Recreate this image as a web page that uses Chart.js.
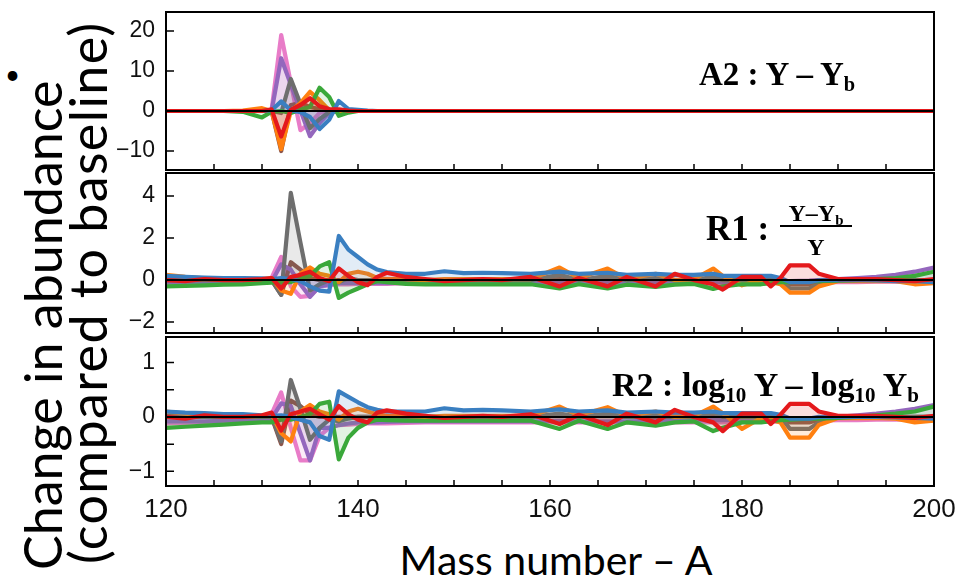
<!DOCTYPE html>
<html>
<head>
<meta charset="utf-8">
<script src="https://cdn.jsdelivr.net/npm/chart.js@4.4.1/dist/chart.umd.min.js"></script>
<style>
    body { margin: 0; background: #fff; width: 965px; height: 581px; overflow: hidden; position: relative; }
    canvas { position: absolute; left: 0; }
    .note { position: absolute; font-family: 'Liberation Serif', 'Times New Roman', serif; font-weight: bold; color: #000; white-space: nowrap; }
    .note sub { font-size: 0.62em; vertical-align: -0.3em; line-height: 0; }
    .title { position: absolute; font-family: Lato, 'Open Sans', sans-serif; color: #000; white-space: nowrap; }
</style>
</head>
<body>
<div class="title" style="left:5px;top:58px;font-size:26px;">•</div>

<canvas id="panelA2" width="965" height="162" style="top:10px"></canvas>
<canvas id="panelR1" width="965" height="164" style="top:171px"></canvas>
<canvas id="panelR2" width="965" height="191" style="top:335px"></canvas>

<div class="title" style="left:-210px;top:250px;width:550px;height:90px;font-size:52px;line-height:45px;transform:rotate(-90deg);">Change in abundance<br><span style="display:inline-block;padding-left:6px;letter-spacing:1.4px;">(compared to baseline)</span></div>
<div class="title" style="left:256px;top:539px;width:600px;text-align:center;font-size:41px;line-height:41px;">Mass number – A</div>

<div class="note" style="left:699px;top:56px;font-size:33px;">A2 : Y – Y<sub>b</sub></div>
<div class="note" style="left:706px;top:209px;font-size:35px;">R1 :</div>
<div class="note" style="left:780px;top:203px;width:72px;font-size:24px;text-align:center;line-height:21px;">
    <div style="border-bottom:2px solid #000;padding-bottom:1px;">Y–Y<sub>b</sub></div>
    <div style="padding-top:10px;">Y</div>
</div>
<div class="note" style="left:612px;top:366px;font-size:34px;">R2 : log<sub>10</sub> Y – log<sub>10</sub> Y<sub>b</sub></div>

<script>
// Mass numbers where the curves were read
const X = [120, 122, 124, 126, 128, 130, 131, 132, 133, 134, 135, 136, 137, 138, 139, 140, 141, 142, 143, 145,
    147, 149, 151, 153, 155, 158, 161, 163, 166, 168, 171, 173, 175, 177, 178, 180, 182, 183, 184, 185,
    187, 188, 190, 192, 194, 196, 198, 200];

const X_TICKS = [120, 140, 160, 180, 200];
const X_MINOR = [120, 125, 130, 135, 140, 145, 150, 155, 160, 165, 170, 175, 180, 185, 190, 195, 200];

const A2_TICKS = [-10, 0, 10, 20];
const R1_TICKS = [-2, 0, 2, 4];
const R2_TICKS = [-1, 0, 1];
const R2_MARKS = [-1, -0.5, 0, 0.5, 1];

// A2 : Y - Yb
const A2_BLUE = [0, 0, 0, 0, 0, 0, 0.2, 2.4, 0.2, -0.3, -1.5, -4.5, -2.2, 2.5, 0.5, 0.3, 0.1, 0, 0, 0,
    0, 0, 0, 0, 0, 0, 0, 0, 0, 0, 0, 0, 0, 0, 0, 0, 0, 0, 0, 0, 0, 0, 0, 0, 0, 0, 0, 0];
const A2_ORANGE = [0, 0, 0, 0, 0.1, 0.7, 0, -9.5, 0, 2, 4.8, 2.7, 0.2, 0, 0, 0, 0, 0, 0, 0,
    0, 0, 0, 0, 0, 0, 0, 0, 0, 0, 0, 0, 0, 0, 0, 0, 0, 0, 0, 0, 0, 0, 0, 0, 0, 0, 0, 0];
const A2_GREEN = [0, 0, 0, 0, -0.2, -1.6, -0.2, 0, -0.5, 0.3, 1, 5.8, 3.5, -1.2, -0.4, 0, 0, 0, 0, 0,
    0, 0, 0, 0, 0, 0, 0, 0, 0, 0, 0, 0, 0, 0, 0, 0, 0, 0, 0, 0, 0, 0, 0, 0, 0, 0, 0, 0];
const A2_RED = [0, 0, 0, 0, 0, 0, 0.4, -6.4, 0.3, 1.5, 3.2, 1.2, 0.5, 0.4, 0.1, 0, 0, 0, 0, 0,
    0, 0, 0, 0, 0, 0, 0, 0, 0, 0, 0, 0, 0, 0, 0, 0, 0, 0, 0, 0, 0, 0, 0, 0, 0, 0, 0, 0];
const A2_PURPLE = [0, 0, 0, 0, 0, 0, 0, 13.2, 6.6, 0.2, -6.3, -3, -0.5, 0, 0, 0, 0, 0, 0, 0,
    0, 0, 0, 0, 0, 0, 0, 0, 0, 0, 0, 0, 0, 0, 0, 0, 0, 0, 0, 0, 0, 0, 0, 0, 0, 0, 0, 0];
const A2_BROWN = [0, 0, 0, 0, 0, 0, 0, -10, 1.5, 2, 1, 0.5, 0, 0, 0, 0, 0, 0, 0, 0,
    0, 0, 0, 0, 0, 0, 0, 0, 0, 0, 0, 0, 0, 0, 0, 0, 0, 0, 0, 0, 0, 0, 0, 0, 0, 0, 0, 0];
const A2_PINK = [0, 0, 0, 0, 0, 0, 0.3, 19, 7, -4.8, -3, -0.5, 0, 0, 0, 0, 0, 0, 0, 0,
    0, 0, 0, 0, 0, 0, 0, 0, 0, 0, 0, 0, 0, 0, 0, 0, 0, 0, 0, 0, 0, 0, 0, 0, 0, 0, 0, 0];
const A2_GRAY = [0, 0, 0, 0, 0, 0, 0, -0.5, 8, 1.8, -4.3, -2, -0.3, 0, 0, 0, 0, 0, 0, 0,
    0, 0, 0, 0, 0, 0, 0, 0, 0, 0, 0, 0, 0, 0, 0, 0, 0, 0, 0, 0, 0, 0, 0, 0, 0, 0, 0, 0];

// R1 : (Y - Yb) / Y
const R1_BLUE = [0.2, 0.15, 0.12, 0.1, 0.1, 0.08, 0.05, 0.1, 0.05, -0.05, -0.3, -0.5, -0.55, 2.1, 1.45,
    1.1, 0.75, 0.5, 0.38, 0.3, 0.3, 0.42, 0.33, 0.35, 0.33, 0.3, 0.4, 0.3, 0.35, 0.25,
    0.3, 0.25, 0.25, 0.3, 0.2, 0.2, 0.2, 0.2, 0.1, -0.1, -0.1, 0, 0, 0, -0.02, -0.05, -0.05, -0.1];
const R1_ORANGE = [0.25, 0.15, 0.08, 0.05, 0.03, 0.05, 0.1, -0.5, -0.65, 0.3, 0.6, 0.3, 0.2, -0.1, 0.3,
    0.4, 0.3, 0.1, 0.05, 0.05, 0, 0.05, 0.05, 0.05, 0.05, 0.05, 0.6, 0.1, 0.55, 0.05,
    0.3, 0, 0.05, 0.55, 0.2, -0.25, 0, -0.1, -0.2, -0.6, -0.6, -0.3, -0.05, -0.05, -0.05, -0.05, -0.2, -0.15];
const R1_GREEN = [-0.3, -0.28, -0.25, -0.22, -0.2, -0.15, -0.12, -0.1, -0.1, 0.1, 0.2, 0.65, 0.85, -0.85, -0.6,
    -0.4, -0.2, -0.05, -0.1, -0.18, -0.2, -0.2, -0.2, -0.2, -0.2, -0.2, -0.4, -0.2, -0.4, -0.22,
    -0.32, -0.22, -0.18, -0.42, -0.3, -0.2, -0.2, -0.15, -0.1, -0.1, -0.05, -0.05, -0.03, 0, 0.05, 0.1, 0.2, 0.4];
const R1_RED = [0, -0.05, 0.05, 0, 0, 0.05, 0.1, -0.4, 0.15, 0.25, 0.4, 0.1, -0.05, 0.55, 0.2,
    -0.1, -0.24, 0.15, 0.35, 0.15, 0.05, -0.05, 0, 0.05, 0, 0.15, -0.3, 0.1, -0.3, 0.15,
    -0.3, 0.3, 0, -0.2, -0.45, 0.15, 0.15, -0.3, 0.1, 0.7, 0.7, 0.3, 0.05, 0.05, 0.05, 0, -0.05, 0.05];
const R1_PURPLE = [-0.1, -0.1, -0.1, -0.1, -0.1, -0.1, -0.08, 0.75, 0.5, -0.2, -0.8, -0.3, -0.2, -0.15, -0.15,
    -0.15, -0.15, -0.15, -0.15, -0.12, -0.12, -0.12, -0.12, -0.12, -0.12, -0.12, -0.1, -0.12, -0.12, -0.12,
    -0.12, -0.1, -0.1, -0.1, -0.1, -0.08, -0.08, -0.08, -0.05, -0.05, -0.03, 0, 0.05, 0.1, 0.15, 0.25, 0.4, 0.6];
const R1_BROWN = [0.05, 0.03, 0.02, 0, 0, 0, 0, -0.7, 0.85, 0.5, 0.1, 0, 0, 0, 0,
    0, 0, 0, 0, 0, 0, 0, 0, 0, 0, 0, 0.05, 0, 0.05, 0,
    0, 0, 0, 0.05, 0, 0, 0, 0, 0, -0.2, -0.2, -0.1, 0, 0, 0, 0, 0, 0];
const R1_PINK = [-0.2, -0.18, -0.16, -0.15, -0.15, -0.12, 0.1, 1.1, -0.3, -0.8, -0.75, -0.3, -0.25, -0.2, -0.2,
    -0.18, -0.18, -0.18, -0.18, -0.15, -0.15, -0.15, -0.15, -0.15, -0.15, -0.15, -0.15, -0.15, -0.15, -0.15,
    -0.15, -0.15, -0.15, -0.15, -0.15, -0.12, -0.12, -0.12, -0.12, -0.1, -0.1, -0.1, -0.1, -0.1, -0.08, -0.08, -0.08, -0.05];
const R1_GRAY = [0, 0, 0, 0, 0, 0, 0, -0.7, 4.15, 1.8, -0.5, -0.2, 0, -0.1, 0.1,
    0, 0, 0, 0, 0, 0, 0, 0, 0, 0, 0, 0.25, 0, 0.2, 0,
    0.1, 0, 0, 0.15, 0, 0, 0, 0, 0, -0.4, -0.4, -0.2, 0, 0, 0, 0, 0, 0];

// R2 : log10 Y - log10 Yb
const R2_BLUE = [0.1, 0.08, 0.07, 0.05, 0.05, 0.03, 0.02, 0.03, 0, -0.05, -0.1, -0.35, -0.42, 0.47, 0.37,
    0.27, 0.18, 0.13, 0.1, 0.1, 0.1, 0.16, 0.12, 0.13, 0.12, 0.1, 0.14, 0.1, 0.12, 0.08,
    0.1, 0.08, 0.08, 0.1, 0.07, 0.07, 0.07, 0.07, 0.04, -0.03, -0.03, 0, 0, 0, 0, -0.01, -0.02, -0.03];
const R2_ORANGE = [0.1, 0.06, 0.03, 0.02, 0.01, 0.02, 0.05, -0.3, -0.45, 0.1, 0.22, 0.1, 0.05, -0.05, 0.1,
    0.15, 0.1, 0.05, 0.02, 0.02, 0, 0.02, 0.02, 0.02, 0.02, 0.02, 0.19, 0.03, 0.18, 0.02,
    0.1, 0, 0.02, 0.19, 0.07, -0.22, -0.02, -0.05, -0.1, -0.38, -0.38, -0.15, -0.02, -0.02, -0.02, -0.03, -0.1, -0.07];
const R2_GREEN = [-0.2, -0.18, -0.16, -0.14, -0.12, -0.1, -0.1, -0.05, -0.05, 0, 0.05, 0.24, 0.28, -0.78, -0.38,
    -0.2, -0.1, -0.05, -0.06, -0.07, -0.07, -0.07, -0.07, -0.07, -0.07, -0.07, -0.22, -0.07, -0.22, -0.1,
    -0.16, -0.1, -0.08, -0.26, -0.2, -0.1, -0.1, -0.08, -0.06, -0.05, -0.03, -0.03, -0.02, 0, 0.03, 0.06, 0.1, 0.19];
const R2_RED = [0, -0.03, 0.03, 0, 0, 0.03, 0.08, -0.25, 0.05, 0.1, 0.15, 0.05, -0.05, 0.2, 0.05,
    -0.05, -0.1, 0.08, 0.12, 0.06, 0.02, -0.02, 0, 0.02, 0, 0.05, -0.13, 0.04, -0.15, 0.06,
    -0.1, 0.13, 0, -0.1, -0.26, 0.06, 0.06, -0.13, 0.04, 0.24, 0.24, 0.1, 0.02, 0.02, 0.02, 0, -0.02, 0.02];
const R2_PURPLE = [-0.08, -0.08, -0.08, -0.07, -0.07, -0.06, -0.03, 0.25, 0.2, -0.3, -0.8, -0.2, -0.2, -0.15, -0.12,
    -0.1, -0.1, -0.1, -0.09, -0.08, -0.08, -0.08, -0.08, -0.08, -0.08, -0.08, -0.07, -0.08, -0.08, -0.08,
    -0.07, -0.07, -0.06, -0.06, -0.06, -0.05, -0.05, -0.05, -0.04, -0.04, -0.03, -0.02, 0, 0.03, 0.06, 0.1, 0.15, 0.22];
const R2_BROWN = [0.02, 0.01, 0, 0, 0, 0, 0, -0.5, 0.3, 0.2, 0.05, 0, 0, 0, 0,
    0, 0, 0, 0, 0, 0, 0, 0, 0, 0, 0, 0.02, 0, 0.02, 0,
    0, 0, 0, 0.02, 0, 0, 0, 0, 0, -0.1, -0.1, -0.05, 0, 0, 0, 0, 0, 0];
const R2_PINK = [-0.12, -0.11, -0.1, -0.1, -0.1, -0.08, 0.05, 0.45, -0.2, -0.8, -0.8, -0.35, -0.2, -0.15, -0.14,
    -0.13, -0.12, -0.12, -0.12, -0.11, -0.1, -0.1, -0.1, -0.1, -0.1, -0.1, -0.1, -0.1, -0.1, -0.1,
    -0.1, -0.1, -0.1, -0.1, -0.1, -0.09, -0.09, -0.09, -0.08, -0.08, -0.07, -0.07, -0.06, -0.06, -0.05, -0.05, -0.04, -0.03];
const R2_GRAY = [0, 0, 0, 0, 0, 0, 0, -0.45, 0.68, 0.15, -0.42, -0.2, -0.05, -0.08, -0.03,
    0, 0, 0, 0, 0, 0, 0, 0, 0, 0, 0, 0.06, 0, 0.06, 0,
    0.03, 0, 0, 0.08, 0, 0, 0, 0, 0, -0.22, -0.22, -0.1, 0, 0, 0, 0, 0, 0];

const COLORS = {
    red: '#e4191c',
    blue: '#3a7fc1',
    green: '#3aa83a',
    orange: '#ff8010',
    gray: '#6e6e6e',
    purple: '#9467bd',
    brown: '#8c564b',
    pink: '#e87cc8'
};

// first name is drawn on top
const DRAW_ORDER = ['red', 'blue', 'green', 'orange', 'gray', 'purple', 'brown', 'pink'];

function withAlpha(hex, a) {
    const n = parseInt(hex.slice(1), 16);
    return `rgba(${n >> 16}, ${(n >> 8) & 255}, ${n & 255}, ${a})`;
}

// frame, inward ticks and the black zero line, like the original plot
const framePlugin = {
    id: 'frame',
    afterDatasetsDraw(chart, args, opts) {
        const { ctx, chartArea: a, scales: { x, y } } = chart;
        ctx.save();
        ctx.strokeStyle = '#000';

        const y0 = y.getPixelForValue(0);
        ctx.lineWidth = 2;
        ctx.beginPath();
        ctx.moveTo(a.left, y0);
        ctx.lineTo(a.right, y0);
        ctx.stroke();

        ctx.lineWidth = 1.5;
        ctx.beginPath();
        X_MINOR.forEach((v) => {
            const px = x.getPixelForValue(v);
            ctx.moveTo(px, a.bottom);
            ctx.lineTo(px, a.bottom - 6);
        });
        opts.yMarks.forEach((v) => {
            const py = y.getPixelForValue(v);
            ctx.moveTo(a.left, py);
            ctx.lineTo(a.left + 8, py);
        });
        ctx.stroke();

        ctx.lineWidth = 2;
        ctx.strokeRect(a.left, a.top, a.right - a.left, a.bottom - a.top);
        ctx.restore();
    }
};

function minusLabel(v) {
    return v < 0 ? '\u2212' + Math.abs(v) : String(v);
}

function makePanel(id, series, yMin, yMax, yTicks, yMarks, showX) {
    const datasets = DRAW_ORDER.map((name, i) => ({
        label: name,
        data: X.map((x, k) => ({ x: x, y: series[name][k] })),
        borderColor: COLORS[name],
        backgroundColor: withAlpha(COLORS[name], 0.15),
        borderWidth: 4.2,
        borderJoinStyle: 'round',
        fill: 'origin',
        pointRadius: 0,
        tension: 0,
        order: i + 1
    }));

    return new Chart(document.getElementById(id), {
        type: 'line',
        data: { datasets },
        options: {
            responsive: false,
            animation: false,
            events: [],
            layout: { padding: { left: 0, right: 31, top: 2, bottom: showX ? 0 : 2 } },
            plugins: {
                legend: { display: false },
                tooltip: { enabled: false },
                frame: { yMarks: yMarks }
            },
            scales: {
                x: {
                    type: 'linear',
                    min: 120,
                    max: 200,
                    display: showX,
                    grid: { display: false, drawTicks: false },
                    border: { display: false },
                    afterBuildTicks: (s) => { s.ticks = X_TICKS.map((v) => ({ value: v })); },
                    afterFit: (s) => {
                        s.height = showX ? 40 : 0;
                        s.paddingLeft = 0;
                        s.paddingRight = 0;
                    },
                    ticks: {
                        padding: 8,
                        maxRotation: 0,
                        autoSkip: false,
                        color: '#111',
                        font: { family: "'Liberation Sans Narrow', 'Liberation Sans', Arial", size: 26 }
                    }
                },
                y: {
                    min: yMin,
                    max: yMax,
                    grid: { display: false, drawTicks: false },
                    border: { display: false },
                    afterBuildTicks: (s) => { s.ticks = yTicks.map((v) => ({ value: v })); },
                    afterFit: (s) => {
                        s.width = 166;
                        s.paddingTop = 0;
                        s.paddingBottom = 0;
                    },
                    ticks: {
                        padding: 11,
                        color: '#111',
                        font: { family: "'Liberation Sans', Arial", size: 23 },
                        callback: minusLabel
                    }
                }
            }
        },
        plugins: [framePlugin]
    });
}

makePanel('panelA2', {
    red: A2_RED, blue: A2_BLUE, green: A2_GREEN, orange: A2_ORANGE,
    gray: A2_GRAY, purple: A2_PURPLE, brown: A2_BROWN, pink: A2_PINK
}, -14.75, 24.75, A2_TICKS, A2_TICKS, false);

makePanel('panelR1', {
    red: R1_RED, blue: R1_BLUE, green: R1_GREEN, orange: R1_ORANGE,
    gray: R1_GRAY, purple: R1_PURPLE, brown: R1_BROWN, pink: R1_PINK
}, -2.52, 5.1, R1_TICKS, R1_TICKS, false);

makePanel('panelR2', {
    red: R2_RED, blue: R2_BLUE, green: R2_GREEN, orange: R2_ORANGE,
    gray: R2_GRAY, purple: R2_PURPLE, brown: R2_BROWN, pink: R2_PINK
}, -1.27, 1.47, R2_TICKS, R2_MARKS, true);
</script>
</body>
</html>
